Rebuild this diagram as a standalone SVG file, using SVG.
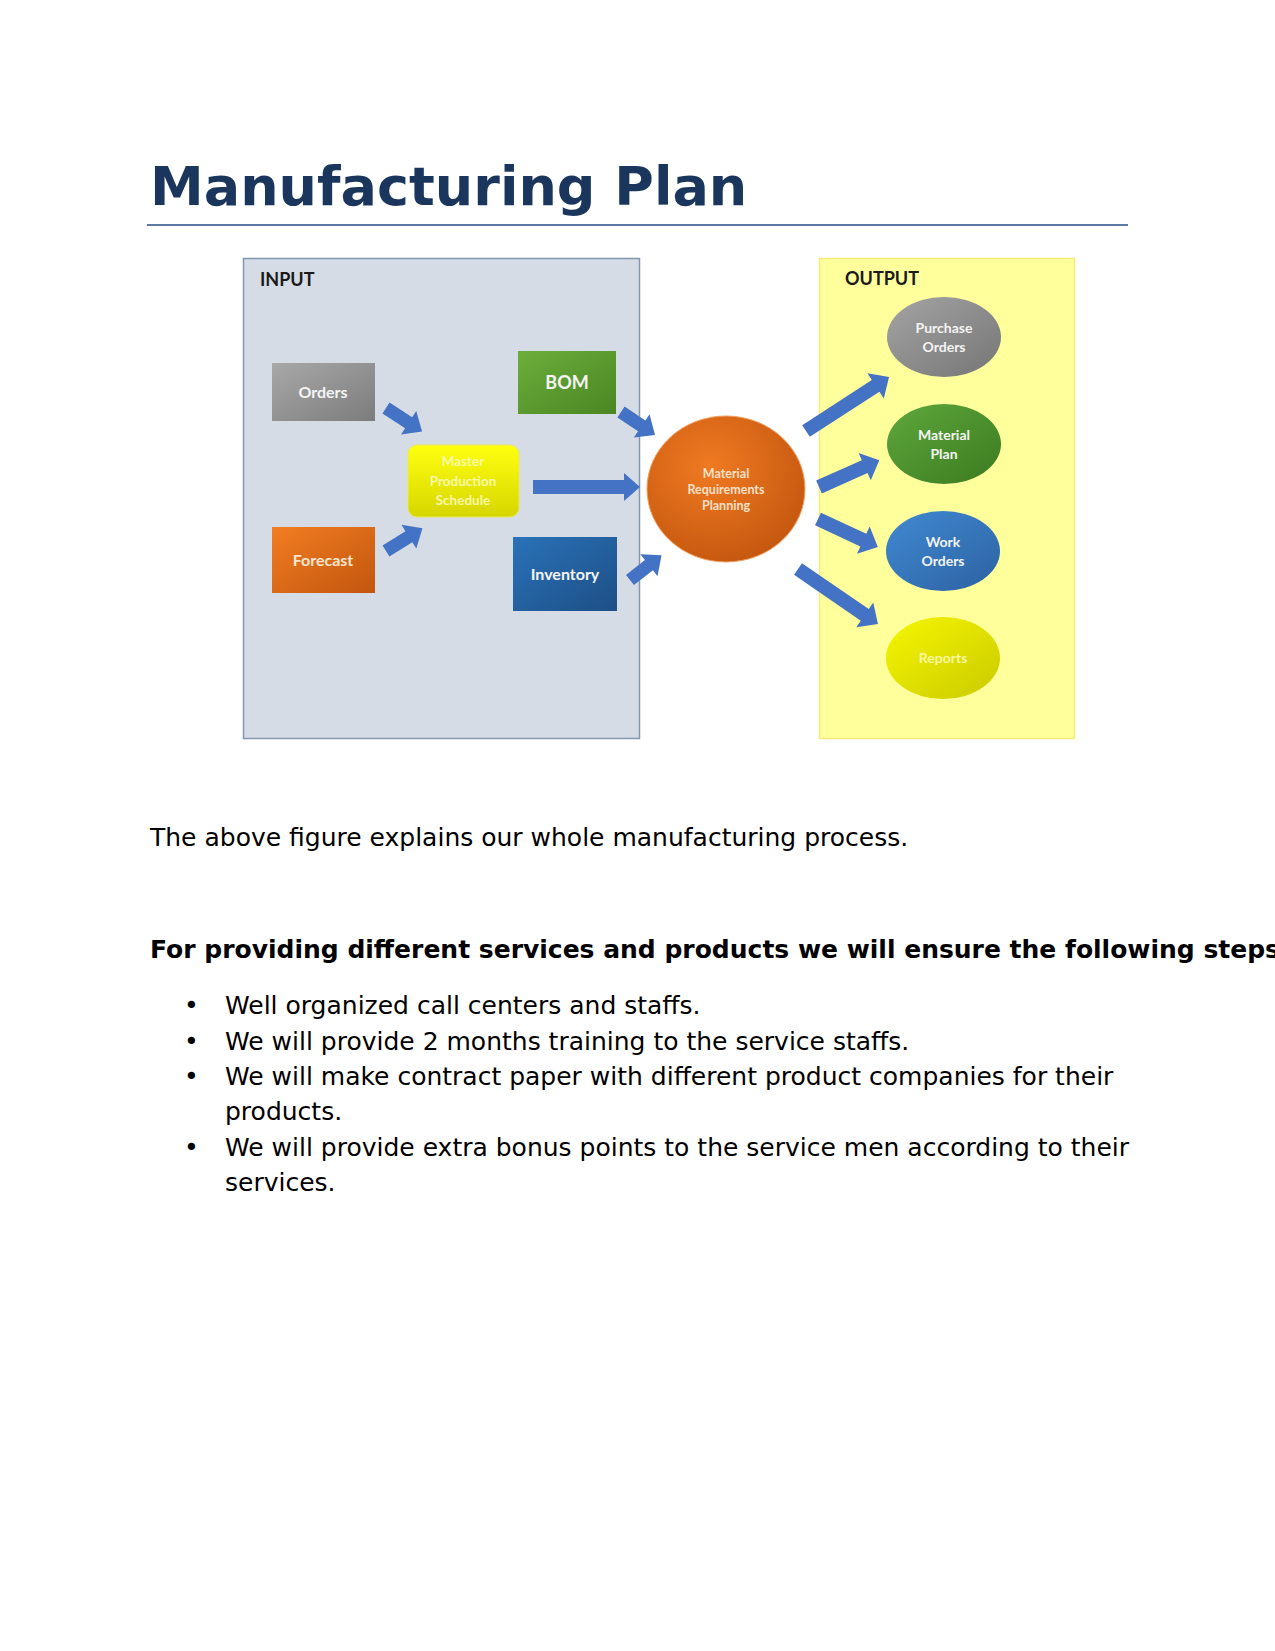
<svg xmlns="http://www.w3.org/2000/svg" width="1275" height="1651" viewBox="0 0 1275 1651">
<style>
.title{font-family:"DejaVu Sans",sans-serif;font-weight:bold;font-size:54px;fill:#1b365d}
.body{font-family:"DejaVu Sans",sans-serif;font-size:25px;fill:#000}
.bold{font-family:"DejaVu Sans",sans-serif;font-size:25px;font-weight:bold;fill:#000}
.hdr{font-family:Lato,"Open Sans",sans-serif;font-weight:bold;font-size:18px;fill:#1a1a1a}
.lbl{font-family:Lato,"Open Sans",sans-serif;font-weight:bold;fill:#f4f4f4;text-anchor:middle}
.arrow{fill:#4472c4}
</style>
<defs>
<linearGradient id="gGray" x1="0" y1="0" x2="1" y2="1"><stop offset="0" stop-color="#a8a8a8"/><stop offset="1" stop-color="#7c7c7c"/></linearGradient>
<linearGradient id="gGreen" x1="0" y1="0" x2="1" y2="1"><stop offset="0" stop-color="#6cae3c"/><stop offset="1" stop-color="#4a8622"/></linearGradient>
<linearGradient id="gOrange" x1="0" y1="0" x2="1" y2="1"><stop offset="0" stop-color="#f27d22"/><stop offset="1" stop-color="#c2560e"/></linearGradient>
<linearGradient id="gBlue" x1="0" y1="0" x2="1" y2="1"><stop offset="0" stop-color="#2a72b8"/><stop offset="1" stop-color="#1d4f86"/></linearGradient>
<linearGradient id="gYellow" x1="0" y1="0" x2="0" y2="1"><stop offset="0" stop-color="#ffff10"/><stop offset="1" stop-color="#d6d600"/></linearGradient>
<linearGradient id="gEGray" x1="0" y1="0" x2="1" y2="1"><stop offset="0" stop-color="#a4a4a4"/><stop offset="1" stop-color="#757575"/></linearGradient>
<linearGradient id="gEGreen" x1="0" y1="0" x2="1" y2="1"><stop offset="0" stop-color="#5ea83c"/><stop offset="1" stop-color="#3c7a20"/></linearGradient>
<linearGradient id="gEBlue" x1="0" y1="0" x2="1" y2="1"><stop offset="0" stop-color="#4189d2"/><stop offset="1" stop-color="#2c62a2"/></linearGradient>
<linearGradient id="gEYellow" x1="0" y1="0" x2="1" y2="1"><stop offset="0" stop-color="#f6f600"/><stop offset="1" stop-color="#caca00"/></linearGradient>
<radialGradient id="gMRP" cx="0.4" cy="0.35" r="0.7"><stop offset="0" stop-color="#f07a22"/><stop offset="1" stop-color="#c4570f"/></radialGradient>
</defs>

<text class="title" x="150" y="205">Manufacturing Plan</text>
<line x1="147" y1="225" x2="1128" y2="225" stroke="#5b7aa3" stroke-width="2"/>

<g id="input-panel">
<rect x="243.5" y="258.5" width="396" height="480" fill="#d6dce5" stroke="#8496b0" stroke-width="1.5"/>
<text class="hdr" x="260" y="286">INPUT</text>
</g>
<g id="output-panel">
<rect x="819.5" y="258.5" width="255" height="480" fill="#ffff9c" stroke="#f2ec7c" stroke-width="1.5"/>
<text class="hdr" x="845" y="285">OUTPUT</text>
</g>

<g id="connectors">
<g class="arrow" transform="translate(386,408) rotate(33)"><path d="M0,-6.5 L27,-6.5 L27,-14 L43,0 L27,14 L27,6.5 L0,6.5 Z"/></g>
<g class="arrow" transform="translate(386,551) rotate(-32)"><path d="M0,-6.5 L27,-6.5 L27,-14 L43,0 L27,14 L27,6.5 L0,6.5 Z"/></g>
<g class="arrow" transform="translate(533,487)"><path d="M0,-7 L91,-7 L91,-14 L107,0 L91,14 L91,7 L0,7 Z"/></g>
<g class="arrow" transform="translate(621,412) rotate(34)"><path d="M0,-6.5 L25,-6.5 L25,-14 L41,0 L25,14 L25,6.5 L0,6.5 Z"/></g>
<g class="arrow" transform="translate(630,580) rotate(-38)"><path d="M0,-6.5 L24,-6.5 L24,-14 L40,0 L24,14 L24,6.5 L0,6.5 Z"/></g>
<g class="arrow" transform="translate(806,431) rotate(-33)"><path d="M0,-7 L83,-7 L83,-15 L99,0 L83,15 L83,7 L0,7 Z"/></g>
<g class="arrow" transform="translate(819,487) rotate(-24)"><path d="M0,-7 L50,-7 L50,-15 L66,0 L50,15 L50,7 L0,7 Z"/></g>
<g class="arrow" transform="translate(818,519) rotate(25)"><path d="M0,-7 L50,-7 L50,-15 L66,0 L50,15 L50,7 L0,7 Z"/></g>
<g class="arrow" transform="translate(798,569) rotate(34.5)"><path d="M0,-7 L81,-7 L81,-15 L97,0 L81,15 L81,7 L0,7 Z"/></g>
</g>

<g id="orders">
<rect x="272" y="363" width="103" height="58" fill="url(#gGray)"/>
<text class="lbl" x="323" y="398" font-size="16">Orders</text>
</g>
<g id="forecast">
<rect x="272" y="527" width="103" height="66" fill="url(#gOrange)"/>
<text class="lbl" x="323" y="566" font-size="16" style="fill:#fde6cf">Forecast</text>
</g>
<g id="bom">
<rect x="518" y="351" width="98" height="63" fill="url(#gGreen)"/>
<text class="lbl" x="567" y="389" font-size="18">BOM</text>
</g>
<g id="inventory">
<rect x="513" y="537" width="104" height="74" fill="url(#gBlue)"/>
<text class="lbl" x="565" y="580" font-size="16">Inventory</text>
</g>
<g id="mps">
<rect x="408" y="445" width="111" height="72" rx="9" fill="url(#gYellow)" stroke="#e8e860" stroke-width="1"/>
<text class="lbl" x="463" y="466" font-size="13.5" style="fill:#f7f7a8">Master</text>
<text class="lbl" x="463" y="486" font-size="13.5" style="fill:#f7f7a8">Production</text>
<text class="lbl" x="463" y="505" font-size="13.5" style="fill:#f7f7a8">Schedule</text>
</g>
<g id="mrp">
<ellipse cx="726" cy="489" rx="79" ry="73" fill="url(#gMRP)" stroke="#f4a060" stroke-width="1"/>
<text class="lbl" x="726" y="478" font-size="12.5" style="fill:#fbe0c8">Material</text>
<text class="lbl" x="726" y="494" font-size="12.5" style="fill:#fbe0c8">Requirements</text>
<text class="lbl" x="726" y="510" font-size="12.5" style="fill:#fbe0c8">Planning</text>
</g>
<g id="purchase-orders">
<ellipse cx="944" cy="337" rx="57" ry="40" fill="url(#gEGray)"/>
<text class="lbl" x="944" y="333" font-size="14">Purchase</text>
<text class="lbl" x="944" y="352" font-size="14">Orders</text>
</g>
<g id="material-plan">
<ellipse cx="944" cy="444" rx="57" ry="40" fill="url(#gEGreen)"/>
<text class="lbl" x="944" y="440" font-size="14">Material</text>
<text class="lbl" x="944" y="459" font-size="14">Plan</text>
</g>
<g id="work-orders">
<ellipse cx="943" cy="551" rx="57" ry="40" fill="url(#gEBlue)"/>
<text class="lbl" x="943" y="547" font-size="14">Work</text>
<text class="lbl" x="943" y="566" font-size="14">Orders</text>
</g>
<g id="reports">
<ellipse cx="943" cy="658" rx="57" ry="41" fill="url(#gEYellow)"/>
<text class="lbl" x="943" y="663" font-size="14" style="fill:#f7f7a0">Reports</text>
</g>

<text class="body" x="150" y="846">The above figure explains our whole manufacturing process.</text>
<text class="bold" x="150" y="958">For providing different services and products we will ensure the following steps</text>
<g>
<text class="body" x="184" y="1014">•</text>
<text class="body" x="225" y="1014">Well organized call centers and staffs.</text>
<text class="body" x="184" y="1050">•</text>
<text class="body" x="225" y="1050">We will provide 2 months training to the service staffs.</text>
<text class="body" x="184" y="1085">•</text>
<text class="body" x="225" y="1085">We will make contract paper with different product companies for their</text>
<text class="body" x="225" y="1120">products.</text>
<text class="body" x="184" y="1156">•</text>
<text class="body" x="225" y="1156">We will provide extra bonus points to the service men according to their</text>
<text class="body" x="225" y="1191">services.</text>
</g>
</svg>
